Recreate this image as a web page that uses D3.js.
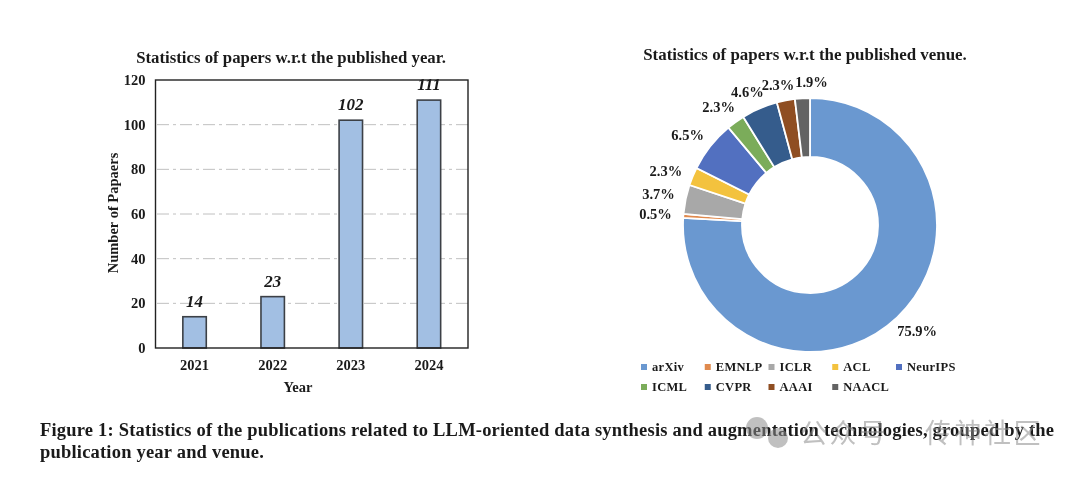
<!DOCTYPE html>
<html>
<head>
<meta charset="utf-8">
<script src="https://cdn.jsdelivr.net/npm/d3@7"></script>
<style>
    html, body { margin: 0; padding: 0; background: #fff; }
    svg { display: block; filter: blur(0.4px); }
    text { font-family: "Liberation Serif", serif; font-weight: bold; fill: #1a1a1a; }
</style>
</head>
<body>
<svg id="chart" width="1080" height="477"></svg>
<script>
// bar chart data
const years = ["2021", "2022", "2023", "2024"];
const paperCounts = [14, 23, 102, 111];
const yTicks = [0, 20, 40, 60, 80, 100, 120];

// donut chart data
const venues = ["arXiv", "EMNLP", "ICLR", "ACL", "NeurIPS", "ICML", "CVPR", "AAAI", "NAACL"];
const venueShares = [75.9, 0.5, 3.7, 2.3, 6.5, 2.3, 4.6, 2.3, 1.9];
const venueColors = ["#6a98d0", "#e08a4e", "#a8a8a8", "#f3c23e", "#5270c0", "#7bac5a", "#355c8c", "#8f4e22", "#636363"];

const captionLines = [
    "Figure 1: Statistics of the publications related to LLM-oriented data synthesis and augmentation technologies, grouped by the",
    "publication year and venue."
];

const svg = d3.select("#chart");

// bar chart
const x = d3.scaleBand().domain(years).range([155.5, 468]).paddingInner(0.7).paddingOuter(0.35);
const y = d3.scaleLinear().domain([0, 120]).range([348, 80]);

svg.append("text")
    .attr("x", 291).attr("y", 63)
    .attr("text-anchor", "middle")
    .style("font-size", "16.8px")
    .text("Statistics of papers w.r.t the published year.");

// dash-dot grid lines
svg.append("g").selectAll("line")
    .data(yTicks.filter(d => d > 0 && d < 120))
    .join("line")
    .attr("x1", 157).attr("x2", 468)
    .attr("y1", d => y(d)).attr("y2", d => y(d))
    .attr("stroke", "#c0c0c0")
    .attr("stroke-width", 1)
    .attr("stroke-dasharray", "12 4 3 4");

const yAxis = d3.axisLeft(y).tickValues(yTicks).tickSize(0).tickPadding(10);
const yG = svg.append("g").attr("transform", "translate(155.5,0)").call(yAxis);
yG.select(".domain").remove();
yG.selectAll("text").style("font-size", "14.5px").style("font-family", '"Liberation Serif", serif');

svg.append("g").selectAll("rect")
    .data(paperCounts)
    .join("rect")
    .attr("x", (d, i) => x(years[i]))
    .attr("y", d => y(d))
    .attr("width", x.bandwidth())
    .attr("height", d => y(0) - y(d))
    .attr("fill", "#a2bfe3")
    .attr("stroke", "#3c4046")
    .attr("stroke-width", 1.6);

svg.append("g").selectAll("text")
    .data(paperCounts)
    .join("text")
    .attr("x", (d, i) => x(years[i]) + x.bandwidth() / 2)
    .attr("y", d => y(d) - 10)
    .attr("text-anchor", "middle")
    .style("font-size", "17px")
    .style("font-style", "italic")
    .text(d => d);

// plot frame
svg.append("rect")
    .attr("x", 155.5).attr("y", y(120))
    .attr("width", 312.5).attr("height", y(0) - y(120))
    .attr("fill", "none")
    .attr("stroke", "#222")
    .attr("stroke-width", 1.4);

const xAxis = d3.axisBottom(x).tickSize(0).tickPadding(12);
const xG = svg.append("g").attr("transform", "translate(0,348)").call(xAxis);
xG.select(".domain").remove();
xG.selectAll("text").style("font-size", "14.5px").style("font-family", '"Liberation Serif", serif');

svg.append("text")
    .attr("x", 298).attr("y", 392)
    .attr("text-anchor", "middle")
    .style("font-size", "14.5px")
    .text("Year");

svg.append("text")
    .attr("transform", "translate(118,213) rotate(-90)")
    .attr("text-anchor", "middle")
    .style("font-size", "14.5px")
    .text("Number of Papaers");

// donut chart
const cx = 810, cy = 225, outerR = 127, innerR = 68;

svg.append("text")
    .attr("x", 805).attr("y", 60)
    .attr("text-anchor", "middle")
    .style("font-size", "16.9px")
    .text("Statistics of papers w.r.t the published venue.");

const pie = d3.pie().sort(null)(venueShares);
const arc = d3.arc().innerRadius(innerR).outerRadius(outerR);

const donut = svg.append("g").attr("transform", `translate(${cx},${cy})`);

donut.selectAll("path")
    .data(pie)
    .join("path")
    .attr("d", arc)
    .attr("fill", (d, i) => venueColors[i])
    .attr("stroke", "#fff")
    .attr("stroke-width", 1.8);

// labels sit further out on the sides because the text is wider there
function labelPos(d, i) {
    let a = (d.startAngle + d.endAngle) / 2;
    // most labels were dragged a little anticlockwise in the original
    if (i != 1 && i != 2 && i != 8) a -= 0.032;
    const r = outerR + 14 + Math.abs(Math.sin(a)) * 14;
    return [r * Math.sin(a), -r * Math.cos(a)];
}

donut.selectAll("text")
    .data(pie)
    .join("text")
    .attr("x", (d, i) => labelPos(d, i)[0] + (i == 8 ? 10 : 0))
    .attr("y", (d, i) => labelPos(d, i)[1] - (i == 8 ? 2 : 0))
    .attr("dy", "0.35em")
    .attr("text-anchor", "middle")
    .style("font-size", "14.5px")
    .text(d => d.value + "%");

// legend
const legendX = d3.scalePoint().domain(d3.range(5)).range([644, 899]);
const legend = svg.append("g").selectAll("g")
    .data(venues)
    .join("g")
    .attr("transform", (d, i) => `translate(${legendX(i % 5)},${i < 5 ? 367 : 387})`);

legend.append("rect")
    .attr("x", -3).attr("y", -3)
    .attr("width", 6).attr("height", 6)
    .attr("fill", (d, i) => venueColors[i]);

legend.append("text")
    .attr("x", 8).attr("dy", "0.35em")
    .style("font-size", "12.5px")
    .style("letter-spacing", "0.3px")
    .text(d => d);

// caption
svg.append("g").selectAll("text")
    .data(captionLines)
    .join("text")
    .attr("x", 40)
    .attr("y", (d, i) => 436 + i * 22)
    .style("font-size", "18.5px")
    .style("letter-spacing", "0.2px")
    .text(d => d);

// watermark over the caption
const mark = svg.append("g").attr("fill", "#8c8c8c").attr("opacity", 0.55);
mark.append("circle").attr("cx", 757).attr("cy", 428).attr("r", 11);
mark.append("circle").attr("cx", 778).attr("cy", 438).attr("r", 10);

svg.append("g").selectAll("text")
    .data(["公众号", "传神社区"])
    .join("text")
    .attr("x", (d, i) => i == 0 ? 800 : 925)
    .attr("y", 443)
    .style("font-family", '"Noto Sans CJK SC", sans-serif')
    .style("font-weight", "normal")
    .style("font-size", "27px")
    .style("fill", "#8c8c8c")
    .style("opacity", 0.55)
    .style("letter-spacing", "2.5px")
    .text(d => d);
</script>
</body>
</html>
